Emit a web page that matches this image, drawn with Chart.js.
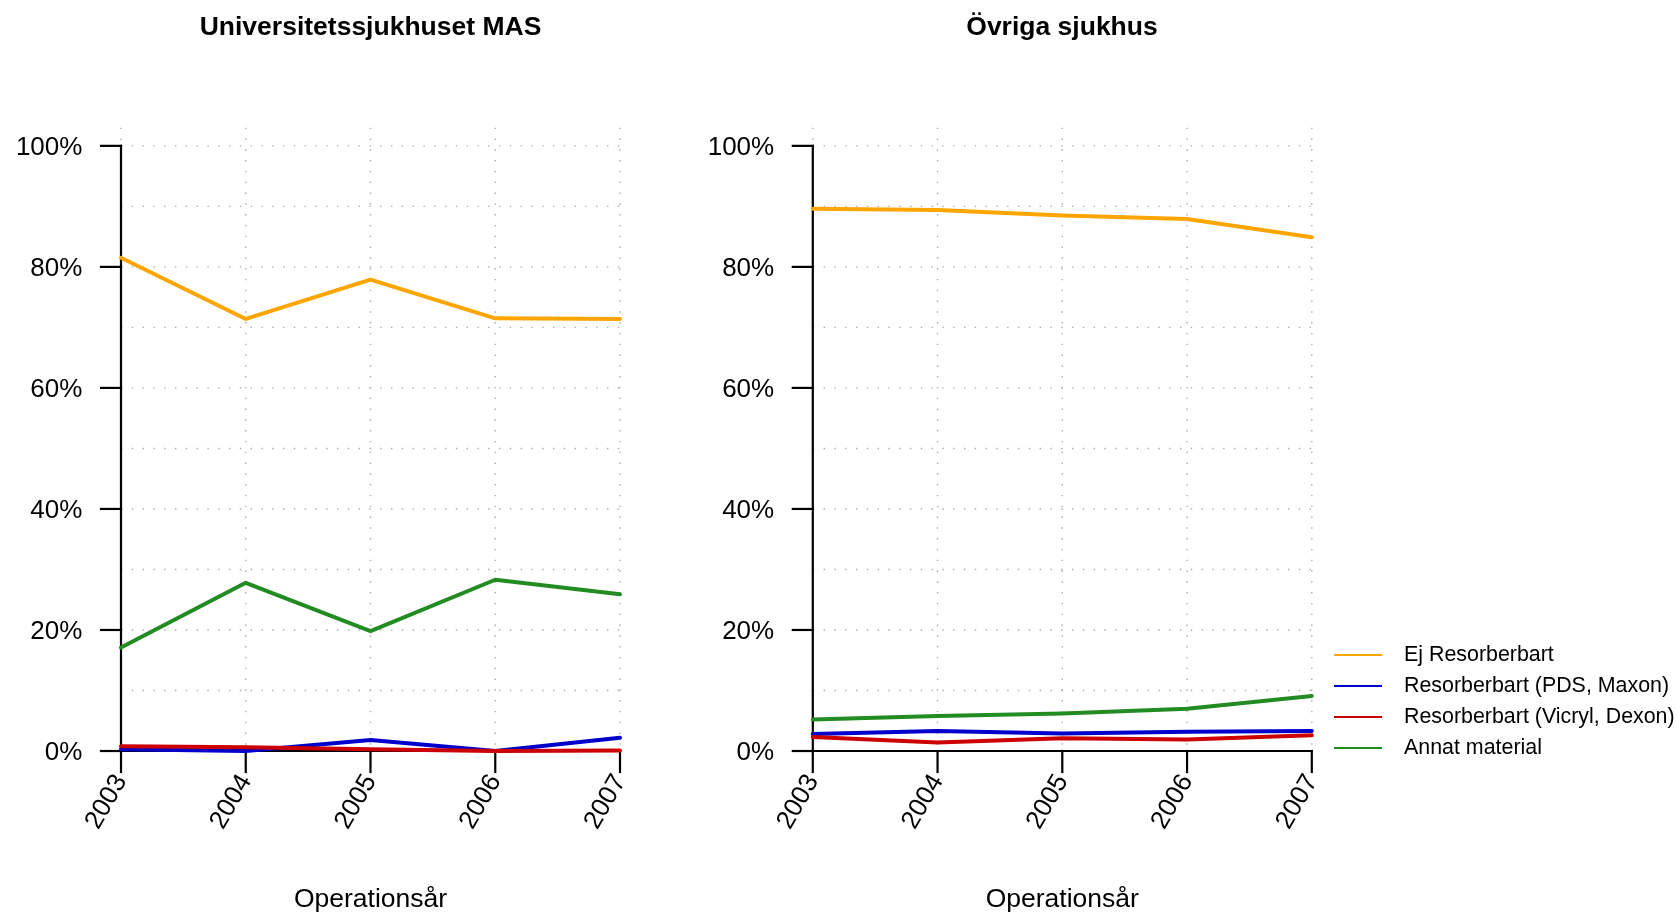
<!DOCTYPE html>
<html lang="sv">
<head>
<meta charset="utf-8">
<title>Suturmaterial per operationsår</title>
<script src="https://cdn.jsdelivr.net/npm/chart.js@4.4.1/dist/chart.umd.min.js"></script>
<style>
    html, body {
        margin: 0;
        padding: 0;
        background: #ffffff;
        width: 1677px;
        height: 913px;
        overflow: hidden;
        font-family: 'Liberation Sans', Arial, sans-serif;
    }
    canvas {
        position: absolute;
        top: 0;
    }
    #chartMas { left: 0; }
    #chartOvr { left: 700px; }
    .legend {
        position: absolute;
        left: 1334px;
        top: 639px;
    }
    .legend-row {
        height: 31px;
        display: flex;
        align-items: center;
        font-size: 21.4px;
        color: #000;
        white-space: nowrap;
    }
    .legend-line {
        width: 48px;
        height: 2px;
        margin-right: 22px;
    }
</style>
</head>
<body>
<canvas id="chartMas" width="741" height="913"></canvas>
<canvas id="chartOvr" width="724" height="913"></canvas>
<div class="legend" id="legend"></div>

<script>
// ========================================
// Data (andel i procent)
// ========================================
const years = ['2003', '2004', '2005', '2006', '2007'];
const seriesNames = ['Ej Resorberbart', 'Resorberbart (PDS, Maxon)', 'Resorberbart (Vicryl, Dexon)', 'Annat material'];

// Universitetssjukhuset MAS
const masEj = [81.5, 71.4, 77.9, 71.5, 71.4];
const masPds = [0.3, 0.0, 1.8, 0.0, 2.2];
const masVicryl = [0.8, 0.6, 0.3, 0.0, 0.1];
const masAnnat = [17.1, 27.8, 19.8, 28.3, 25.9];

// Övriga sjukhus
const ovrEj = [89.6, 89.4, 88.5, 87.9, 84.9];
const ovrPds = [2.8, 3.3, 2.9, 3.2, 3.3];
const ovrVicryl = [2.3, 1.4, 2.1, 1.9, 2.6];
const ovrAnnat = [5.2, 5.8, 6.2, 7.0, 9.1];

// Axlar
const yTicks = [0, 20, 40, 60, 80, 100];
const yGrid = [10, 20, 30, 40, 50, 60, 70, 80, 90, 100];

// ========================================
// Stil
// ========================================
const FONT = "'Liberation Sans', Arial, sans-serif";
const seriesColors = ['#FFA500', '#0000CD', '#CD0000', '#228B22'];
const Y_MAX = 103;
const Y_TICK_LEN = 20;
const X_TICK_LEN = 21;

Chart.defaults.font.family = FONT;
Chart.defaults.color = '#000000';

// R-liknande axlar och prickat rutnät
const rAxesPlugin = {
    id: 'rAxes',
    beforeDatasetsDraw(chart) {
        const { ctx, chartArea, scales } = chart;
        const xs = scales.x;
        const ys = scales.y;
        const y0 = ys.getPixelForValue(0);
        const xFirst = xs.getPixelForValue(0);
        const xLast = xs.getPixelForValue(years.length - 1);

        function line(x1, y1, x2, y2) {
            ctx.beginPath();
            ctx.moveTo(x1, y1);
            ctx.lineTo(x2, y2);
            ctx.stroke();
        }

        ctx.save();

        // prickat rutnät
        ctx.strokeStyle = '#aaaaaa';
        ctx.lineWidth = 1.4;
        ctx.setLineDash([1.4, 9.4]);
        yGrid.forEach(v => {
            const py = ys.getPixelForValue(v);
            line(xFirst, py, xLast, py);
        });
        years.forEach((yr, i) => {
            const px = xs.getPixelForValue(i);
            line(px, chartArea.top, px, y0);
        });

        // axlar
        ctx.setLineDash([]);
        ctx.strokeStyle = '#000000';
        ctx.lineWidth = 2.2;
        ctx.lineCap = 'square';
        line(xFirst, ys.getPixelForValue(yTicks[yTicks.length - 1]), xFirst, y0);
        yTicks.forEach(v => {
            const py = ys.getPixelForValue(v);
            line(xFirst - Y_TICK_LEN, py, xFirst, py);
        });
        line(xFirst, y0, xLast, y0);
        years.forEach((yr, i) => {
            const px = xs.getPixelForValue(i);
            line(px, y0, px, y0 + X_TICK_LEN);
        });

        ctx.restore();
    }
};

// Linjediagram med R-stil
function createPanel(canvasId, title, values, axisWidth) {
    const ctx = document.getElementById(canvasId);
    if (!ctx) return;
    const rightWidth = ctx.width - axisWidth - 499;

    return new Chart(ctx, {
        type: 'line',
        data: {
            labels: years,
            datasets: values.map((data, i) => ({
                label: seriesNames[i],
                data: data,
                borderColor: seriesColors[i],
                backgroundColor: seriesColors[i],
                borderWidth: 4,
                borderJoinStyle: 'round',
                borderCapStyle: 'round',
                pointRadius: 0,
                tension: 0,
                fill: false,
                clip: 6,
                order: values.length - i
            }))
        },
        options: {
            responsive: false,
            animation: false,
            events: [],
            layout: { padding: 0 },
            plugins: {
                legend: { display: false },
                tooltip: { enabled: false },
                title: {
                    display: true,
                    text: title,
                    color: '#000000',
                    font: { family: FONT, size: 26.5, weight: 'bold', lineHeight: 1.2 },
                    padding: { top: 11.8, bottom: 84.1 }
                }
            },
            scales: {
                x: {
                    type: 'category',
                    offset: false,
                    grid: { display: false, drawTicks: false, tickLength: 0 },
                    border: { display: false },
                    ticks: {
                        autoSkip: false,
                        minRotation: 60,
                        maxRotation: 60,
                        padding: 18,
                        color: '#000000',
                        font: { family: FONT, size: 26 }
                    },
                    title: {
                        display: true,
                        text: 'Operationsår',
                        color: '#000000',
                        font: { family: FONT, size: 26.5, lineHeight: 1 },
                        padding: { top: 0, bottom: 0 }
                    },
                    afterFit: function(scale) {
                        scale.height = 162;
                    }
                },
                y: {
                    type: 'linear',
                    min: 0,
                    max: Y_MAX,
                    grid: { display: false, drawTicks: false, tickLength: 0 },
                    border: { display: false },
                    afterBuildTicks: function(scale) {
                        scale.ticks = yTicks.map(v => ({ value: v }));
                    },
                    ticks: {
                        padding: 38.6,
                        labelOffset: 2,
                        color: '#000000',
                        font: { family: FONT, size: 26 },
                        callback: function(value) {
                            return value + '%';
                        }
                    },
                    afterFit: function(scale) {
                        scale.width = axisWidth;
                    }
                },
                // tom axel till höger så att titeln centreras över ritytan
                yRight: {
                    type: 'linear',
                    position: 'right',
                    display: true,
                    grid: { display: false, drawTicks: false },
                    border: { display: false },
                    ticks: { display: false },
                    afterFit: function(scale) {
                        scale.width = rightWidth;
                    }
                }
            }
        },
        plugins: [rAxesPlugin]
    });
}

// Förklaring (legend)
function buildLegend(containerId) {
    const container = document.getElementById(containerId);
    if (!container) return;
    container.innerHTML = seriesNames.map((name, i) => `
        <div class="legend-row">
            <div class="legend-line" style="background:${seriesColors[i]}"></div>
            <span>${name}</span>
        </div>`).join('');
}

createPanel('chartMas', 'Universitetssjukhuset MAS', [masEj, masPds, masVicryl, masAnnat], 121);
createPanel('chartOvr', 'Övriga sjukhus', [ovrEj, ovrPds, ovrVicryl, ovrAnnat], 112.8);
buildLegend('legend');
</script>
</body>
</html>
